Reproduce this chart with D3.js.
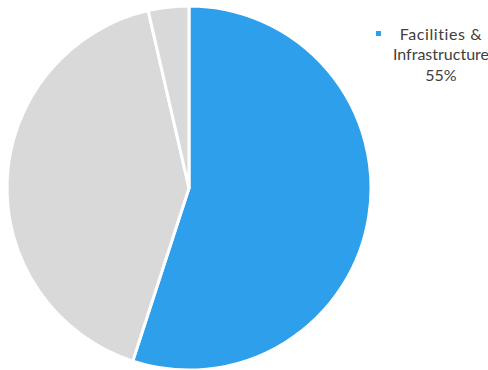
<!DOCTYPE html>
<html>
<head>
<meta charset="utf-8">
<script src="https://cdn.jsdelivr.net/npm/d3@7"></script>
<style>
  html, body { margin: 0; padding: 0; background: #fff; }
  svg { display: block; }
</style>
</head>
<body>
<div id="chart"></div>
<script>
// Budget share by category
const categories = ["Facilities & Infrastructure", "Other", "Remaining"];
const values = [55, 41.4, 3.6];
const colors = ["#2e9fea", "#d9d9d9", "#d9d9d9"];
const legendLines = ["Facilities &", "Infrastructure", "55%"];

const width = 488, height = 370;
const cx = 189, cy = 188, radius = 182;

const svg = d3.select("#chart").append("svg")
  .attr("width", width).attr("height", height);

const pie = d3.pie().sort(null).value(d => d.value);
const arc = d3.arc().innerRadius(0).outerRadius(radius);

const data = categories.map((c, i) => ({ name: c, value: values[i], color: colors[i] }));

svg.append("g")
  .attr("transform", `translate(${cx},${cy})`)
  .selectAll("path")
  .data(pie(data))
  .join("path")
  .attr("d", arc)
  .attr("fill", d => d.data.color)
  .attr("stroke", "#fff")
  .attr("stroke-width", 3)
  .attr("stroke-linejoin", "round");

// Legend for the highlighted slice
const legend = svg.append("g");
legend.append("rect")
  .attr("x", 376).attr("y", 31).attr("width", 5).attr("height", 5)
  .attr("fill", colors[0]);
const lineY = [40, 60, 81];
legend.selectAll("text")
  .data(legendLines)
  .join("text")
  .attr("x", 441)
  .attr("y", (d, i) => lineY[i])
  .attr("text-anchor", "middle")
  .attr("font-family", "Lato, 'Noto Sans', sans-serif")
  .attr("font-size", 16)
  .attr("letter-spacing", (d, i) => i === 0 ? 0.6 : 0)
  .attr("fill", "#404040")
  .text(d => d);
</script>
</body>
</html>
